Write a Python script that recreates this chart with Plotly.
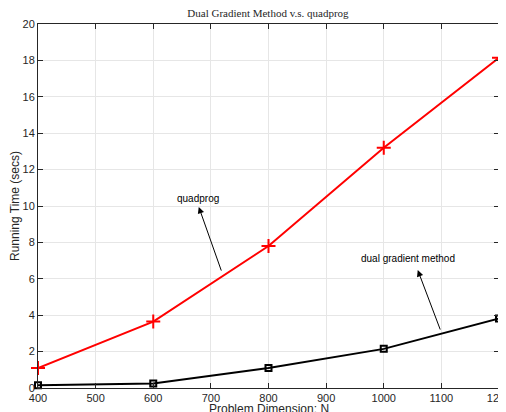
import plotly.graph_objects as go

N = [400, 600, 800, 1000, 1200]
quadprog = [1.1, 3.65, 7.8, 13.2, 18.15]
dual_grad = [0.15, 0.25, 1.1, 2.15, 3.82]

x_ticks = [400, 500, 600, 700, 800, 900, 1000, 1100, 1200]
y_ticks = [0, 2, 4, 6, 8, 10, 12, 14, 16, 18, 20]

fig = go.Figure()
fig.add_trace(go.Scatter(x=N, y=quadprog, mode="lines+markers", name="quadprog",
                         line=dict(color="red", width=2), cliponaxis=False,
                         marker=dict(symbol="cross-thin", size=10, line=dict(color="red", width=2))))
fig.add_trace(go.Scatter(x=N, y=dual_grad, mode="lines+markers", name="dual gradient method",
                         line=dict(color="black", width=2), cliponaxis=False,
                         marker=dict(symbol="square-open", size=6, color="black", line=dict(width=2))))

font_sans = "Liberation Sans, Arial, sans-serif"
axis_common = dict(showline=True, linecolor="#262626", linewidth=1, mirror="allticks",
                   ticks="inside", ticklen=5, tickcolor="#262626", automargin=False,
                   showgrid=True, gridcolor="#e6e6e6", gridwidth=1, zeroline=False,
                   ticklabeloverflow="allow",
                   tickfont=dict(family=font_sans, size=11, color="#262626"))

fig.update_layout(
    width=498, height=404,
    margin=dict(l=30, r=7, t=16, b=24, autoexpand=False),
    paper_bgcolor="white", plot_bgcolor="white",
    showlegend=False,
    title=dict(text="Dual Gradient Method v.s. quadprog", x=0.522, xanchor="center", y=0.988, yanchor="middle",
               font=dict(family="Liberation Serif, Times New Roman, serif", size=11, color="#262626")),
    xaxis=dict(range=[400, 1200], tickvals=x_ticks, ticktext=[str(v) for v in x_ticks],
               **axis_common),
    yaxis=dict(range=[0, 20], tickvals=y_ticks, ticktext=[str(v) for v in y_ticks],
               title=dict(text="Running Time (secs)", standoff=0,
                          font=dict(family=font_sans, size=12, color="#262626")),
               **axis_common),
)

# x-axis title placed below the tick labels
fig.add_annotation(x=0.5, y=0, xref="paper", yref="paper", yanchor="top", yshift=-12,
                   text="Problem Dimension: N", showarrow=False,
                   font=dict(family=font_sans, size=12, color="#262626"))

# Arrows (head near text, tail at curve)
fig.add_annotation(x=679, y=9.95, ax=719, ay=6.37, xref="x", yref="y", axref="x", ayref="y",
                   text="", showarrow=True, arrowhead=2, arrowsize=1.3, arrowwidth=1, arrowcolor="black")
fig.add_annotation(x=1059, y=6.48, ax=1099, ay=3.13, xref="x", yref="y", axref="x", ayref="y",
                   text="", showarrow=True, arrowhead=2, arrowsize=1.3, arrowwidth=1, arrowcolor="black")
fig.add_annotation(x=677, y=10.4, xref="x", yref="y", text="quadprog", showarrow=False,
                   font=dict(family=font_sans, size=10, color="black"))
fig.add_annotation(x=1042, y=7.14, xref="x", yref="y", text="dual gradient method", showarrow=False,
                   font=dict(family=font_sans, size=10, color="black"))

fig.write_html("out.html")
